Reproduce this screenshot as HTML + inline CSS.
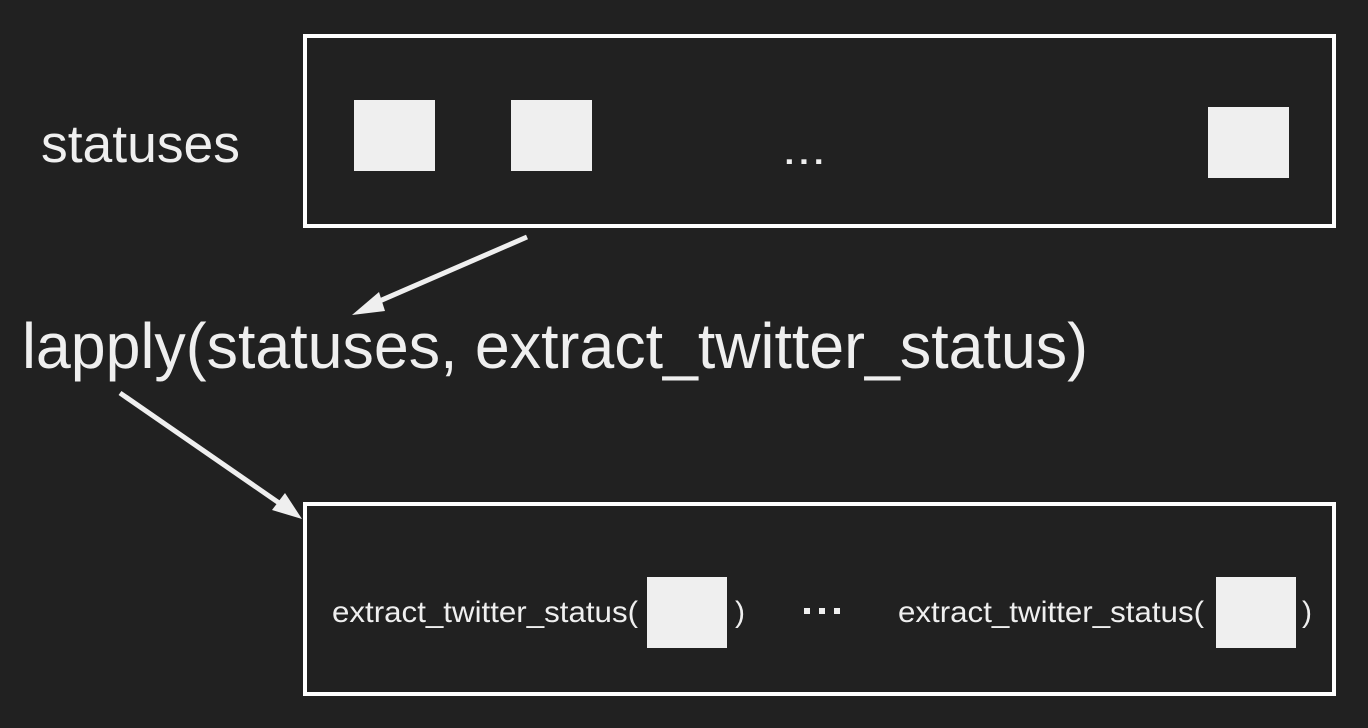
<!DOCTYPE html>
<html><head><style>
body{margin:0;background:#212121;width:1368px;height:728px;overflow:hidden}
</style></head><body>
<svg width="1368" height="728" xmlns="http://www.w3.org/2000/svg" style="position:absolute;left:0;top:0">
<rect width="1368" height="728" fill="#212121"/>
<rect x="305" y="36" width="1029" height="190" fill="none" stroke="#fff" stroke-width="4"/>
<rect x="305" y="504" width="1029" height="190" fill="none" stroke="#fff" stroke-width="4"/>
<rect x="354" y="100" width="81" height="71" fill="#efefef"/>
<rect x="511" y="100" width="81" height="71" fill="#efefef"/>
<rect x="1208" y="107" width="81" height="71" fill="#efefef"/>
<rect x="647" y="577" width="80" height="71" fill="#efefef"/>
<rect x="1216" y="577" width="80" height="71" fill="#efefef"/>
<g font-family="Liberation Sans, sans-serif" fill="#efefef">
<text x="41" y="162" font-size="53" textLength="199" lengthAdjust="spacingAndGlyphs">statuses</text>
<text x="782" y="164" font-size="44" textLength="44" lengthAdjust="spacingAndGlyphs">...</text>
<text x="22" y="368" font-size="64" textLength="1066" lengthAdjust="spacingAndGlyphs">lapply(statuses, extract_twitter_status)</text>
<text x="332" y="622" font-size="30" textLength="306" lengthAdjust="spacingAndGlyphs">extract_twitter_status(</text>
<text x="735" y="622" font-size="30">)</text>
<text x="898" y="622" font-size="30" textLength="306" lengthAdjust="spacingAndGlyphs">extract_twitter_status(</text>
<text x="1302" y="622" font-size="30">)</text>
</g>
<rect x="804" y="608" width="6" height="6" fill="#efefef"/>
<rect x="819" y="608" width="6" height="6" fill="#efefef"/>
<rect x="834" y="608" width="6" height="6" fill="#efefef"/>
<line x1="527" y1="237" x2="375" y2="303" stroke="#efefef" stroke-width="5"/>
<polygon points="352,315 379,292 385,311" fill="#efefef"/>
<line x1="120" y1="393" x2="282" y2="505" stroke="#efefef" stroke-width="5"/>
<polygon points="302,519 272,510 285,493" fill="#efefef"/>
</svg>
</body></html>
